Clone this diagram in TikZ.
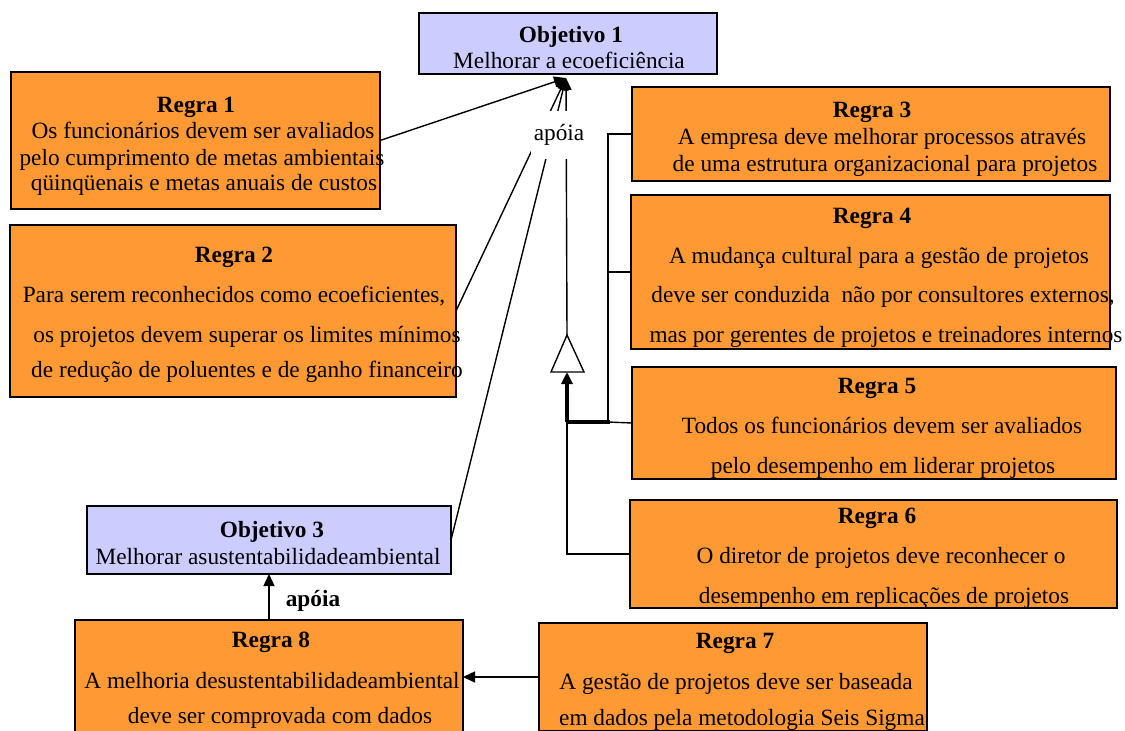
\documentclass[tikz,border=0pt]{standalone}
\usepackage{fontspec}
\setmainfont{Liberation Serif}
\usetikzlibrary{arrows.meta}
\definecolor{rorange}{RGB}{255,153,51}
\definecolor{olav}{RGB}{204,204,255}
\begin{document}
\begin{tikzpicture}[x=1pt,y=-1pt,
  box/.style={draw=black, line width=1.3pt, anchor=north west, inner sep=0pt, outer sep=0pt},
  rbox/.style={box, fill=rorange},
  obox/.style={box, fill=olav},
  txt/.style={anchor=base, inner sep=0pt, font=\fontsize{23.3}{26}\selectfont},
  ttl/.style={anchor=base, inner sep=0pt, font=\fontsize{23.3}{26}\selectfont\bfseries},
  conn/.style={line width=1.4pt},
  arr/.style={-{Triangle[length=12pt,width=11pt]}},
]
\useasboundingbox (0,0) rectangle (1125,731);
\clip (0,0) rectangle (1125,731);

% ---------- boxes ----------
\node[obox, minimum width=298pt, minimum height=61pt] (o1) at (419,13) {};
\node[rbox, minimum width=369pt, minimum height=137pt] (r1) at (11,72) {};
\node[rbox, minimum width=446pt, minimum height=172pt] (r2) at (10,225) {};
\node[rbox, minimum width=478pt, minimum height=94pt] (r3) at (632,87) {};
\node[rbox, minimum width=479pt, minimum height=154pt] (r4) at (631,195) {};
\node[rbox, minimum width=484pt, minimum height=112pt] (r5) at (632,367) {};
\node[rbox, minimum width=487pt, minimum height=108pt] (r6) at (630,500) {};
\node[obox, minimum width=364pt, minimum height=68pt] (o3) at (87,506) {};
\node[rbox, minimum width=388pt, minimum height=114pt] (r8) at (75,620) {};
\node[rbox, minimum width=388pt, minimum height=108pt] (r7) at (539,623) {};

% ---------- connectors to Objetivo 1 ----------
\coordinate (tp) at (566,78);
\coordinate (gapex) at (567,335);
\coordinate (gbase) at (567,372);
\coordinate (j) at (567,422);
\coordinate (j2) at (608,422);

\draw[conn, arr] (r1.east) -- (tp);
\draw[conn, arr] (r2.east) -- (tp);
\draw[conn, arr] (o3.east) -- (tp);
\draw[conn, arr] (gapex) -- (tp);

% generalization triangle
\draw[line width=1.4pt, fill=white] (gapex) -- (551,372) -- (584,372) -- cycle;
\draw[line width=3.5pt, -{Triangle[length=12pt,width=11pt]}] (j) -- (gbase);
\draw[line width=3.5pt] (j) -- ([xshift=1.5pt]j2);
\draw[conn] (j2) |- (r3.west);
\draw[conn] (r4.west) -- (r4.west -| j2);
\draw[conn] (r5.west) -- (j2);
\draw[conn] (r6.west) -| (j);

\node[txt, fill=white, anchor=center, inner xsep=3pt, inner ysep=13pt] (lab1) at (559,135) {apóia};

% ---------- lower connectors ----------
\draw[conn, arr] (r8.north) -- (o3.south);
\node[ttl] (lab2) at (313,606) {apóia};
\draw[conn, arr] (r7.west) -- (r8.east);

% ---------- texts ----------
\node[ttl] (o1a) at (571,42) {Objetivo 1};
\node[txt] (o1b) at (569,68) {Melhorar a ecoeficiência};

\node[ttl] (r1a) at (196,112) {Regra 1};
\node[txt] (r1b) at (203,138) {Os funcionários devem ser avaliados};
\node[txt] (r1c) at (202,165) {pelo cumprimento de metas ambientais};
\node[txt] (r1d) at (204,190) {qüinqüenais e metas anuais de custos};

\node[ttl] (r2a) at (234,262) {Regra 2};
\node[txt] (r2b) at (234,302) {Para serem reconhecidos como ecoeficientes,};
\node[txt] (r2c) at (247,342) {os projetos devem superar os limites mínimos};
\node[txt] (r2d) at (247,377) {de redução de poluentes e de ganho financeiro};

\node[ttl] (r3a) at (872,117) {Regra 3};
\node[txt] (r3b) at (882,144) {A empresa deve melhorar processos através};
\node[txt] (r3c) at (885,171) {de uma estrutura organizacional para projetos};

\node[ttl] (r4a) at (872,223) {Regra 4};
\node[txt] (r4b) at (879,263) {A mudança cultural para a gestão de projetos};
\node[txt] (r4c) at (883,302) {deve ser conduzida\ \ não por consultores externos,};
\node[txt] (r4d) at (886,342) {mas por gerentes de projetos e treinadores internos};

\node[ttl] (r5a) at (877,393) {Regra 5};
\node[txt] (r5b) at (882,433) {Todos os funcionários devem ser avaliados};
\node[txt] (r5c) at (883,473) {pelo desempenho em liderar projetos};

\node[ttl] (r6a) at (877,523) {Regra 6};
\node[txt] (r6b) at (881,563) {O diretor de projetos deve reconhecer o};
\node[txt] (r6c) at (884,603) {desempenho em replicações de projetos};

\node[ttl] (o3a) at (272,537) {Objetivo 3};
\node[txt] (o3b) at (268,564) {Melhorar asustentabilidadeambiental};

\node[ttl] (r8a) at (271,647) {Regra 8};
\node[txt] (r8b) at (272,688) {A melhoria desustentabilidadeambiental};
\node[txt] (r8c) at (280,723) {deve ser comprovada com dados};

\node[ttl] (r7a) at (735,648) {Regra 7};
\node[txt] (r7b) at (736,689) {A gestão de projetos deve ser baseada};
\node[txt] (r7c) at (742,725) {em dados pela metodologia Seis Sigma};
\end{tikzpicture}
\end{document}
